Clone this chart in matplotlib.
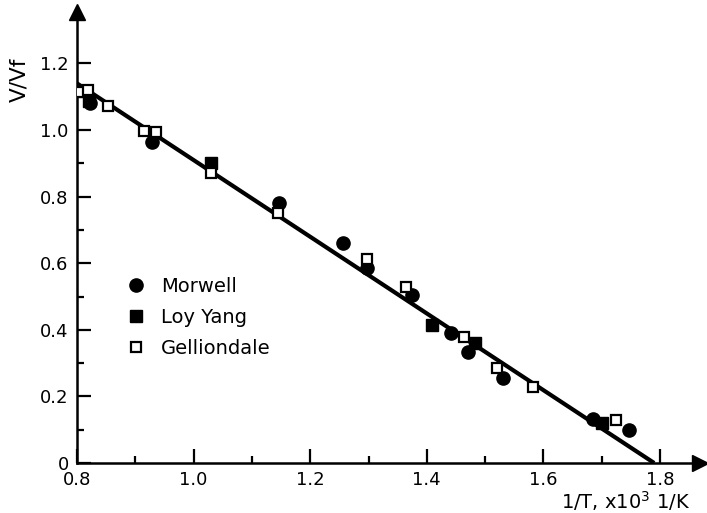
import matplotlib
matplotlib.use("Agg")
import matplotlib.pyplot as plt

# ---- data ----
morwell_x = [0.822, 0.928, 1.147, 1.256, 1.297, 1.375, 1.441, 1.471, 1.531, 1.685, 1.747]
morwell_y = [1.080, 0.965, 0.780, 0.660, 0.585, 0.505, 0.390, 0.333, 0.255, 0.132, 0.099]

loyyang_x = [0.820, 1.030, 1.409, 1.483, 1.700]
loyyang_y = [1.088, 0.900, 0.414, 0.360, 0.120]

gell_x = [0.805, 0.819, 0.853, 0.915, 0.935, 1.030, 1.145, 1.297, 1.364, 1.464, 1.521, 1.582, 1.725]
gell_y = [1.114, 1.120, 1.072, 0.997, 0.994, 0.871, 0.750, 0.613, 0.529, 0.378, 0.285, 0.228, 0.129]

fit_x = [0.80, 1.79]
fit_y = [1.14, 0.00]

x_ticks = [0.8, 1.0, 1.2, 1.4, 1.6, 1.8]
x_labels = ["0.8", "1.0", "1.2", "1.4", "1.6", "1.8"]
y_ticks = [0.0, 0.2, 0.4, 0.6, 0.8, 1.0, 1.2]
y_labels = ["0", "0.2", "0.4", "0.6", "0.8", "1.0", "1.2"]

plt.rcParams['font.family'] = ['DejaVu Sans']

fig = plt.figure(figsize=(7.07, 5.13), dpi=100)
W, H = 707, 513
left, right, bottom, top = 77, 700, 463, 12
ax = fig.add_axes([left / W, (H - bottom) / H, (right - left) / W, (bottom - top) / H])

ax.set_xlim(0.8, 0.8 + (right - left) / 583.0)
ax.set_ylim(0.0, (bottom - top) / 333.0)

ax.plot(fit_x, fit_y, color='black', lw=3.0, solid_capstyle='butt', zorder=2)

ms = 9.5
ax.plot(morwell_x, morwell_y, 'o', color='black', ms=ms, zorder=3, label='Morwell')
ax.plot(loyyang_x, loyyang_y, 's', color='black', ms=ms - 1.5, zorder=3, label='Loy Yang')
ax.plot(gell_x, gell_y, 's', mfc='white', mec='black', mew=1.6, ms=ms - 1.8, zorder=4, label='Gelliondale')

for s in ['top', 'right']:
    ax.spines[s].set_visible(False)
for s in ['left', 'bottom']:
    ax.spines[s].set_linewidth(1.8)

ax.set_xticks(x_ticks)
ax.set_xticklabels(x_labels)
ax.set_yticks(y_ticks)
ax.set_yticklabels(y_labels)
ax.set_xticks([0.9, 1.1, 1.3, 1.5, 1.7], minor=True)
ax.set_yticks([0.1, 0.3, 0.5, 0.7, 0.9, 1.1], minor=True)
ax.tick_params(which='major', direction='in', length=10, width=1.6, labelsize=13, pad=6)
ax.tick_params(which='minor', direction='in', length=5, width=1.6)
ax.tick_params(axis='x', which='major', pad=6)

# arrow heads
ax.plot([0], [1], marker='^', color='black', ms=11, transform=ax.transAxes, clip_on=False)
ax.plot([1], [0], marker='>', color='black', ms=11, transform=ax.transAxes, clip_on=False)

fig.text(19 / W, 1 - 80 / H, 'V/Vf', rotation=90, ha='center', va='center', fontsize=15.5)
fig.text(626 / W, 1 - 509 / H, r'1/T, x10$^3$ 1/K', ha='center', va='baseline', fontsize=14)

leg = ax.legend(loc='upper left', bbox_to_anchor=(126 / W, 1 - 277 / H), bbox_transform=fig.transFigure,
                frameon=False, fontsize=14, handlelength=1.0, handletextpad=0.8, labelspacing=0.62,
                borderpad=0, borderaxespad=0)

fig.savefig('out.png', dpi=100)
